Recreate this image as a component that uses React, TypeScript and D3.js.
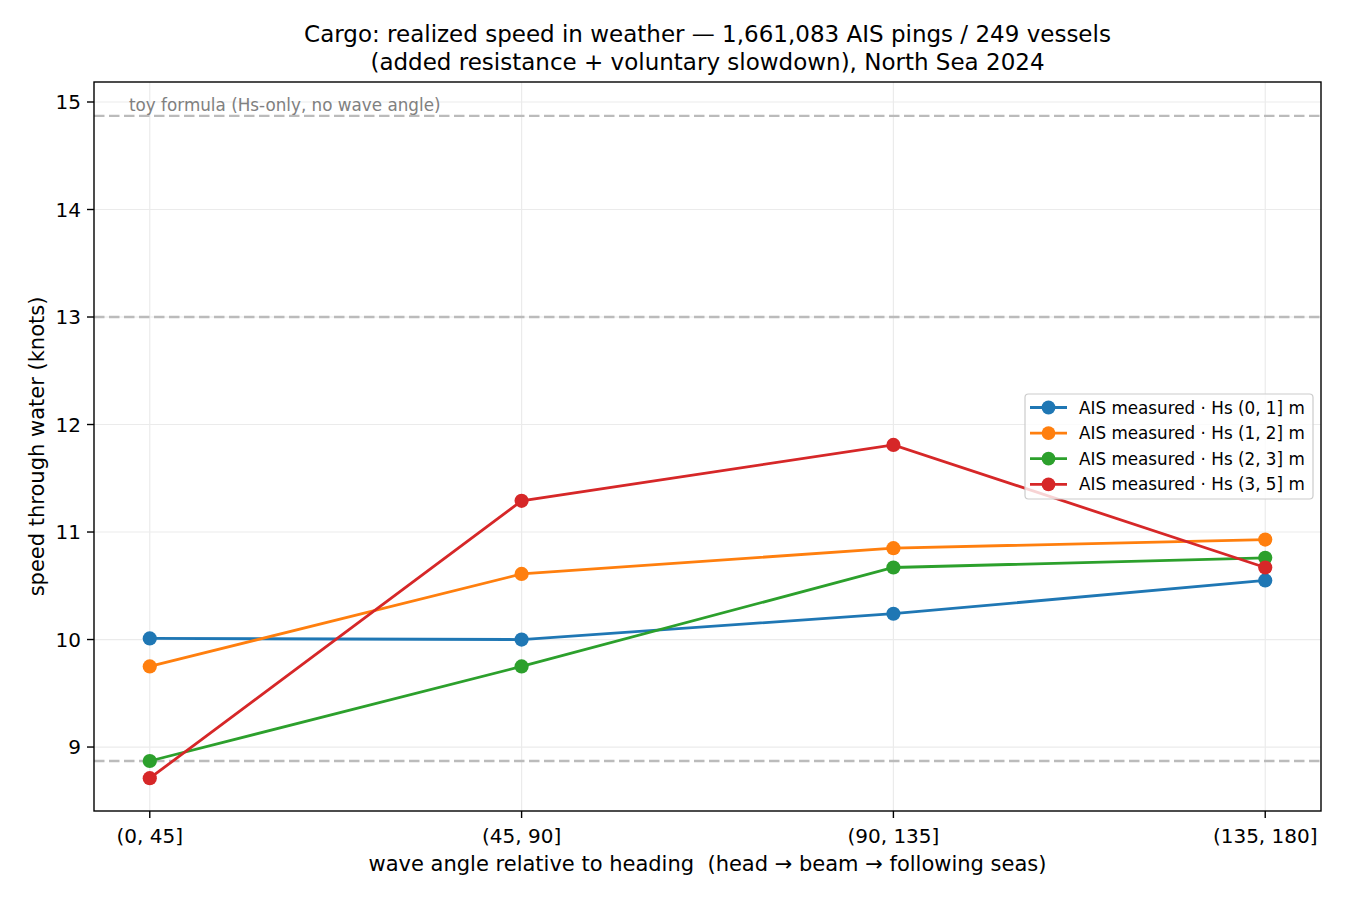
import React from "react";
import * as d3 from "d3";

// Wave-angle sectors relative to heading
const categories = ["(0, 45]", "(45, 90]", "(90, 135]", "(135, 180]"];

// Mean speed through water (knots) per Hs band
const hs01 = [10.01, 10.0, 10.24, 10.55];
const hs12 = [9.75, 10.61, 10.85, 10.93];
const hs23 = [8.87, 9.75, 10.67, 10.76];
const hs35 = [8.71, 11.29, 11.81, 10.67];

const seriesLabels = [
  "AIS measured · Hs (0, 1] m",
  "AIS measured · Hs (1, 2] m",
  "AIS measured · Hs (2, 3] m",
  "AIS measured · Hs (3, 5] m",
];
const seriesColors = ["#1f77b4", "#ff7f0e", "#2ca02c", "#d62728"];

// Toy-formula reference speeds (Hs-only)
const toyLevels = [14.87, 13.0, 8.87];

const yTicks = [9, 10, 11, 12, 13, 14, 15];

const W = 1350;
const H = 900;
const M = { left: 94, right: 1321, top: 82, bottom: 811 };
const FONT = "DejaVu Sans, sans-serif";

export default function App() {
  const series = [hs01, hs12, hs23, hs35];

  const x = d3.scaleLinear().domain([-0.15, 3.15]).range([M.left, M.right]);
  const y = d3.scaleLinear().domain([8.405, 15.186]).range([M.bottom, M.top]);

  const line = d3
    .line<number>()
    .x((_, i) => x(i))
    .y((d) => y(d));

  const legendX = 1025;
  const legendY = 394;
  const legendW = 288;
  const legendH = 105;
  const rowH = 25.6;

  return (
    <svg
      width={W}
      height={H}
      style={{ display: "block", position: "absolute", left: 0, top: 0 }}
      fontFamily={FONT}
    >
      <rect x={0} y={0} width={W} height={H} fill="#fff" />

      {/* grid */}
      {yTicks.map((t) => (
        <line
          key={"gy" + t}
          x1={M.left}
          x2={M.right}
          y1={y(t)}
          y2={y(t)}
          stroke="#ebebeb"
          strokeWidth={1.2}
        />
      ))}
      {categories.map((c, i) => (
        <line
          key={"gx" + c}
          x1={x(i)}
          x2={x(i)}
          y1={M.top}
          y2={M.bottom}
          stroke="#ebebeb"
          strokeWidth={1.2}
        />
      ))}

      {/* toy formula reference lines */}
      {toyLevels.map((v) => (
        <line
          key={"toy" + v}
          x1={M.left}
          x2={M.right}
          y1={y(v)}
          y2={y(v)}
          stroke="#bbbbbb"
          strokeWidth={2.3}
          strokeDasharray="10.5,4.5"
        />
      ))}
      <text x={129} y={111} fontSize={16.8} fill="#808080">
        toy formula (Hs-only, no wave angle)
      </text>

      {/* series */}
      {series.map((s, k) => (
        <g key={"s" + k}>
          <path d={line(s) || ""} fill="none" stroke={seriesColors[k]} strokeWidth={2.8} />
          {s.map((v, i) => (
            <circle key={i} cx={x(i)} cy={y(v)} r={7.1} fill={seriesColors[k]} />
          ))}
        </g>
      ))}

      {/* axes frame */}
      <rect
        x={M.left}
        y={M.top}
        width={M.right - M.left}
        height={M.bottom - M.top}
        fill="none"
        stroke="#000"
        strokeWidth={1.4}
      />

      {/* y ticks */}
      {yTicks.map((t) => (
        <g key={"yt" + t}>
          <line x1={M.left - 7} x2={M.left} y1={y(t)} y2={y(t)} stroke="#000" strokeWidth={1.4} />
          <text x={M.left - 13} y={y(t)} dy="0.36em" textAnchor="end" fontSize={20}>
            {t}
          </text>
        </g>
      ))}

      {/* x ticks */}
      {categories.map((c, i) => (
        <g key={"xt" + c}>
          <line x1={x(i)} x2={x(i)} y1={M.bottom} y2={M.bottom + 7} stroke="#000" strokeWidth={1.4} />
          <text x={x(i)} y={843} textAnchor="middle" fontSize={20}>
            {c}
          </text>
        </g>
      ))}

      {/* axis labels */}
      <text
        x={(M.left + M.right) / 2}
        y={871}
        textAnchor="middle"
        fontSize={21}
        style={{ whiteSpace: "pre" }}
      >
        {"wave angle relative to heading  (head → beam → following seas)"}
      </text>
      <text
        transform={`translate(44, ${(M.top + M.bottom) / 2}) rotate(-90)`}
        textAnchor="middle"
        fontSize={21}
      >
        speed through water (knots)
      </text>

      {/* title */}
      <text x={(M.left + M.right) / 2} y={42} textAnchor="middle" fontSize={23}>
        Cargo: realized speed in weather — 1,661,083 AIS pings / 249 vessels
      </text>
      <text x={(M.left + M.right) / 2} y={70} textAnchor="middle" fontSize={23}>
        (added resistance + voluntary slowdown), North Sea 2024
      </text>

      {/* legend */}
      <g>
        <rect
          x={legendX}
          y={legendY}
          width={legendW}
          height={legendH}
          rx={3.5}
          fill="#fff"
          fillOpacity={0.8}
          stroke="#cccccc"
          strokeWidth={1.2}
        />
        {seriesLabels.map((lab, k) => {
          const cy = legendY + 13.5 + k * rowH;
          return (
            <g key={"lg" + k}>
              <line
                x1={legendX + 5}
                x2={legendX + 42}
                y1={cy}
                y2={cy}
                stroke={seriesColors[k]}
                strokeWidth={2.8}
              />
              <circle cx={legendX + 23.5} cy={cy} r={6.9} fill={seriesColors[k]} />
              <text x={legendX + 54} y={cy} dy="0.36em" fontSize={16.8}>
                {lab}
              </text>
            </g>
          );
        })}
      </g>
    </svg>
  );
}
